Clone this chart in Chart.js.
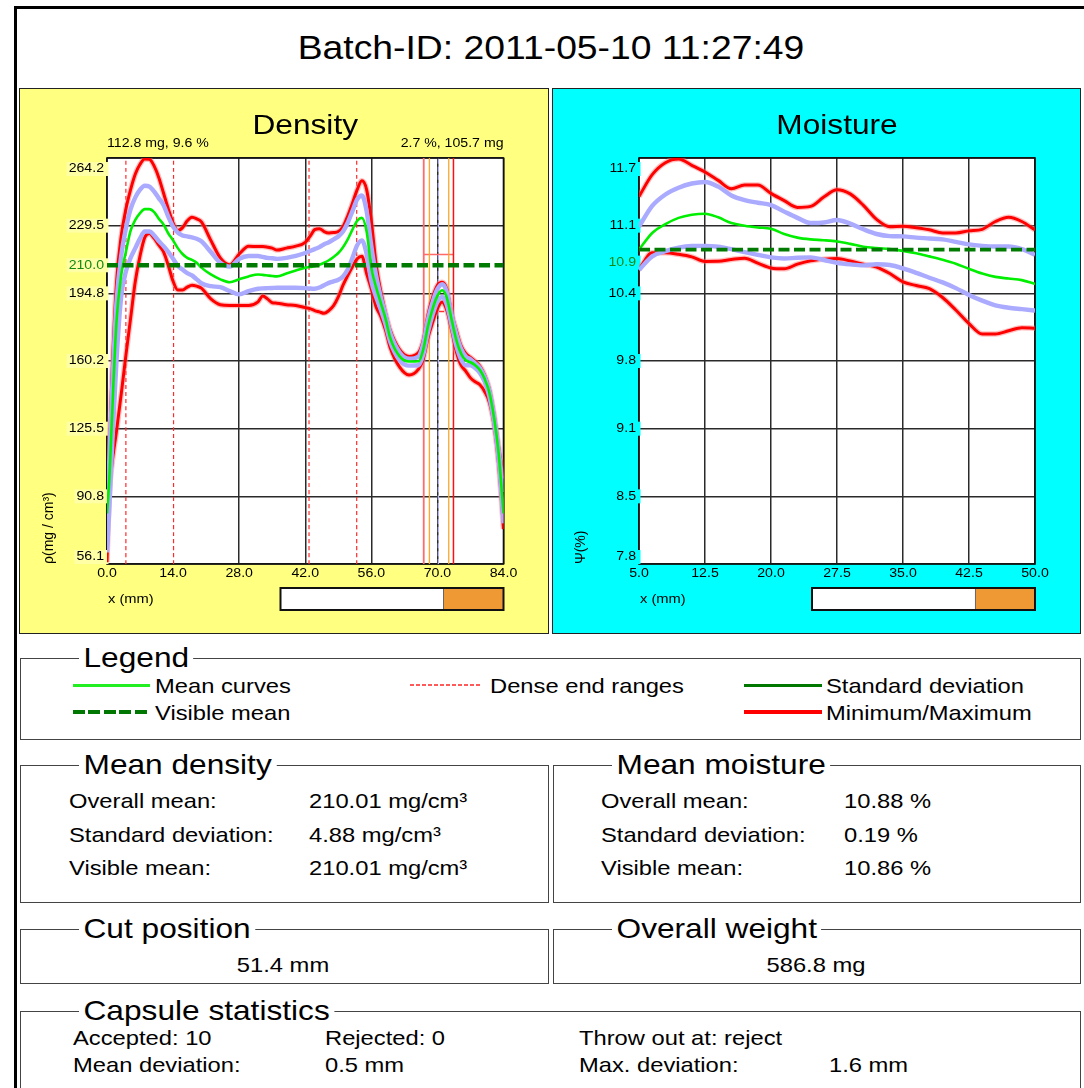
<!DOCTYPE html>
<html><head><meta charset="utf-8">
<script src="https://cdn.jsdelivr.net/npm/chart.js@4.4.1/dist/chart.umd.min.js"></script>
<style>
html,body{margin:0;padding:0;background:#fff;width:1084px;height:1088px;overflow:hidden;font-family:"Liberation Sans",Arial,sans-serif;}
#frame{position:absolute;left:14px;top:6px;width:1080px;height:1090px;border-top:3px solid #000;border-left:3px solid #000;box-sizing:border-box;}
.t{position:absolute;white-space:nowrap;line-height:1;color:#000;transform-origin:0 50%;}
.box{position:absolute;border:1.5px solid #444;box-sizing:border-box;}
.panel{position:absolute;border:1px solid #222;box-sizing:border-box;}
.panel canvas{position:absolute;left:0;top:0;}
.ln{position:absolute;}
</style></head>
<body>
<div id="frame"></div>
<div class="panel" style="left:19px;top:88px;width:530px;height:546px;background:#ffff80;"><canvas id="density" width="528" height="544"></canvas></div>
<div class="panel" style="left:552px;top:88px;width:529px;height:546px;background:#00ffff;"><canvas id="moisture" width="527" height="544"></canvas></div>
<div id="texts"></div>
<script>
// ---------------- DATA ----------------
// Density profile (x in mm, rho in mg/cm3)
const densX = [0,0.5,1,2,3,4,5,6,7,8,9,10,11,12,13,14,15,16,17,18,19,20,22,24,26,28,30,32,33,34,35,36,38,40,42,43,44,45,46,47,48,49,50,51,52,53,54,55,56,57,58,59,60,62,64,66,67,68,69,70,71,72,73,74,75,76,77,78,79,80,81,82,83,84];
const densMax = [88,115,150,200,224,238,248,256,261,263.7,263.5,260,254,246,238,231,227,228.5,232,233.8,233,231.5,222,213,209.5,215,219,218.8,218.8,218.5,218,217,218,219,221,224,227.5,228,226.5,225.8,226,226.5,229,234.5,241,248,252.5,248,232,210,196,185,176,166,162.5,164.5,171,184,193,199,200.5,197,185,176,168,164,162,160,157.5,153,146,133,116,100];
const densUp = [87,110,140,190,214,228,238,244,248,250,249.5,247,243.5,240,234,229,226,224.5,224,223.5,222.8,221.5,216,210.5,208.5,212.5,214,214,213.5,213,212.8,212.5,213,214,215.5,216.5,217.5,218.5,220,221,222.5,224,226.5,231,237,243,245,237,219,204,193,184,174.5,164.5,161.3,162.5,169,181.5,190.5,197,199.5,195.5,184,174,166.5,162.5,161,159,156.5,152,145,132,114,93];
const densMean = [82,100,128,180,204,216,227,232.5,236,238,238,236.5,233,230,225.5,222,218,215,213,212,210.5,208,204.5,202,200.5,202,203.5,204.5,204.3,204,203.7,203.5,205,206.5,208,208.3,208.7,209.5,210.5,211.8,213.5,215.5,218.5,222.5,227.5,232,233.5,226.5,208,198,190,182,172,162.5,159.9,160,166,178,187,193.5,196.4,192.5,181.5,171,164,160.5,159.5,158,155.5,151,144,131,112,82];
const densLow = [62,85,112,160,193,206,213,218,223,226.5,226.5,224.5,221.5,219,216,212.5,209,207,205.2,204,202,200,198.5,198,196,194.3,196,197.2,197.4,197.5,197.6,197.7,197.7,197.7,197.5,197.3,197.2,197.8,199,200.2,201,201.8,203.5,207,213,219.5,222,215,201,193,186.5,179,170,160.5,157.8,158,163.5,175,184,190.5,193,189,178.5,168,161,158,158,156.5,154,149.5,142,129,109,77];
const densMin = [57,92,106,124,143,163,182,201,214,223.5,225.5,223,219.5,216,209,201,196.5,196.5,198,199,198.5,197.5,192,189,188.6,188.6,188.6,190.5,193.5,192,190,189.8,189,188.6,187.5,187,186,185.3,184.6,186,188.5,193,199,204,208.5,212.5,213.9,205,197,188,183,176,167,157,153,156,161,172,180,187,190.4,186,176,165,158,155,151.5,149.5,148,144.5,139,127,106,74];
const densVisibleMean = 209.2;
const densEndRanges = [4.0, 14.1, 42.8, 52.9];
const densCutX = [67.1, 68.3, 70.2, 72.4, 73.4];
const densCutBracket = [214.7, 67.1, 73.4];   // y, x from, x to
const densCutTick = [185.5, 69.8, 71.4];
const densXTicks = [0,14,28,42,56,70,84];
const densXTickLabels = ["0.0","14.0","28.0","42.0","56.0","70.0","84.0"];
const densYTicks = [56.1,90.78,125.47,160.15,194.83,229.52,264.2];
const densYTickLabels = ["56.1","90.8","125.5","160.2","194.8","229.5","264.2"];

// Moisture profile (x in mm, psi in %)
const moistX = [5,6.5,8,9.5,11,12.5,14,15.5,17,18.5,20,21.5,23,24.5,26,27.5,29,30.5,32,33.5,35,36.5,38,39.5,41,42.5,44,45.5,47,48.5,50];
const moistMax = [11.34,11.55,11.665,11.70,11.64,11.575,11.495,11.415,11.45,11.45,11.37,11.30,11.235,11.245,11.335,11.405,11.365,11.255,11.12,11.05,11.055,11.04,11.02,10.99,10.99,11.01,11.025,11.10,11.14,11.10,11.02];
const moistUp = [11.05,11.25,11.36,11.425,11.465,11.48,11.435,11.35,11.305,11.28,11.258,11.195,11.135,11.085,11.09,11.115,11.08,11.025,10.98,10.96,10.957,10.945,10.937,10.928,10.905,10.88,10.866,10.86,10.86,10.835,10.78];
const moistMean = [10.83,10.99,11.075,11.135,11.165,11.175,11.14,11.085,11.06,11.043,11.03,10.98,10.945,10.928,10.92,10.908,10.885,10.858,10.845,10.835,10.818,10.795,10.765,10.733,10.695,10.645,10.60,10.568,10.552,10.537,10.50];
const moistLow = [10.635,10.765,10.815,10.848,10.864,10.866,10.858,10.834,10.806,10.78,10.755,10.745,10.752,10.755,10.73,10.703,10.688,10.679,10.689,10.682,10.65,10.607,10.56,10.515,10.46,10.395,10.34,10.295,10.272,10.258,10.244];
const moistMin = [10.64,10.80,10.80,10.785,10.76,10.716,10.717,10.735,10.748,10.70,10.654,10.645,10.69,10.723,10.738,10.744,10.72,10.69,10.662,10.60,10.52,10.485,10.455,10.37,10.25,10.12,10.02,10.02,10.05,10.08,10.075];
const moistVisibleMean = 10.83;
const moistXTicks = [5,12.5,20,27.5,35,42.5,50];
const moistXTickLabels = ["5.0","12.5","20.0","27.5","35.0","42.5","50.0"];
const moistYTicks = [7.81,8.46,9.11,9.76,10.41,11.06,11.71];
const moistYTickLabels = ["7.8","8.5","9.1","9.8","10.4","11.1","11.7"];

const barFraction = [0.731, 0.733];

// ---------------- DRAWING ----------------
const SX = 1.13;
const FONT = '"Liberation Sans", Arial, sans-serif';

function drawSX(ctx, text, x, y, size, color, align, sx) {
  sx = sx || SX;
  ctx.save();
  ctx.font = size + 'px ' + FONT;
  ctx.fillStyle = color;
  ctx.textBaseline = 'middle';
  ctx.textAlign = 'left';
  const w = ctx.measureText(text).width * sx;
  let x0 = x;
  if (align === 'center') x0 = x - w / 2; else if (align === 'right') x0 = x - w;
  ctx.translate(x0, y);
  ctx.scale(sx, 1);
  ctx.fillText(text, 0, 0);
  ctx.restore();
  return w;
}

const CFG = {
  density: {
    xMin: 0, xMax: 84, yMin: 56.1, yMax: 264.2,
    xTicks: densXTicks, xLabels: densXTickLabels, yTicks: densYTicks, yLabels: densYTickLabels,
    skipGridX: [14],
    xs: densX, max: densMax, up: densUp, mean: densMean, low: densLow, min: densMin,
    visMean: densVisibleMean, visMeanLabel: '210.0', visMeanOffset: 0, meanWidth: 4.6,
    title: 'Density', yTitle: 'ρ(mg / cm³)', noteL: '112.8 mg, 9.6 %', noteR: '2.7 %, 105.7 mg',
    labelBg: '#ffffa6', bar: barFraction[0],
    padding: {left: 87, top: 69, right: 44.5, bottom: 69}
  },
  moisture: {
    xMin: 5, xMax: 50, yMin: 7.81, yMax: 11.71,
    xTicks: moistXTicks, xLabels: moistXTickLabels, yTicks: moistYTicks, yLabels: moistYTickLabels,
    skipGridX: [],
    xs: moistX, max: moistMax, up: moistUp, mean: moistMean, low: moistLow, min: moistMin,
    visMean: moistVisibleMean, visMeanLabel: '10.9', visMeanOffset: 13, meanWidth: 3.6,
    title: 'Moisture', yTitle: 'Ψ(%)', noteL: '', noteR: '',
    labelBg: '#00ffff', bar: barFraction[1],
    padding: {left: 86, top: 69, right: 45, bottom: 69}
  }
};

function markerDatasets(c, id) {
  const out = [];
  if (id !== 'density') return out;
  const v = (x, color, w, dash) => out.push({data: [{x, y: c.yMin}, {x, y: c.yMax}], borderColor: color, borderWidth: w, borderDash: dash || [], order: 5});
  densEndRanges.forEach(x => v(x, '#ff2a2a', 1.2, [4, 3]));
  const cutColors = ['#ff6a6a', '#ffa62b', '#b4b4ff', '#ffa62b', '#ff1010'];
  const cutWidths = [1.8, 1.3, 1.3, 1.3, 1.5];
  densCutX.forEach((x, i) => v(x, cutColors[i], cutWidths[i], i === 2 ? [5, 3] : []));
  out.push({data: [{x: densCutBracket[1], y: densCutBracket[0]}, {x: densCutBracket[2], y: densCutBracket[0]}], borderColor: '#ff6a6a', borderWidth: 1.5, order: 5});
  out.push({data: [{x: densCutTick[1], y: densCutTick[0]}, {x: densCutTick[2], y: densCutTick[0]}], borderColor: '#ff3030', borderWidth: 1.5, order: 5});
  return out;
}

function buildDatasets(c, id) {
  const pts = arr => c.xs.map((x, i) => ({x, y: arr[i]}));
  const ds = [
    {data: [{x: c.xMin, y: c.visMean}, {x: c.xMax, y: c.visMean}], borderColor: '#007a00', borderWidth: c.meanWidth, borderDash: [11, 4.5], order: 0, cubicInterpolationMode: 'default', tension: 0},
    {data: pts(c.mean), borderColor: '#00ee00', borderWidth: 2.6, order: 1},
    {data: pts(c.up), borderColor: '#aaaaff', borderWidth: 4.4, order: 2},
    {data: pts(c.low), borderColor: '#aaaaff', borderWidth: 4.4, order: 2},
    {data: pts(c.max), borderColor: '#ff0000', borderWidth: 3, order: 3},
    {data: pts(c.min), borderColor: '#ff0000', borderWidth: 3, order: 3},
    {data: pts(c.max), borderColor: 'rgba(255,120,120,0.45)', borderWidth: 5.5, order: 4},
    {data: pts(c.min), borderColor: 'rgba(255,120,120,0.45)', borderWidth: 5.5, order: 4}
  ].concat(markerDatasets(c, id));
  return ds.map(d => Object.assign({showLine: true, pointRadius: 0, pointHoverRadius: 0, fill: false,
    cubicInterpolationMode: 'monotone', borderCapStyle: 'butt', borderJoinStyle: 'round'}, d));
}

const deco = {
  id: 'deco',
  beforeDraw(chart) {
    const a = chart.chartArea, ctx = chart.ctx;
    ctx.save(); ctx.fillStyle = '#fff';
    ctx.fillRect(a.left, a.top, a.right - a.left, a.bottom - a.top);
    ctx.restore();
  },
  beforeDatasetsDraw(chart) {
    const c = CFG[chart.canvas.id], a = chart.chartArea, ctx = chart.ctx, ys = chart.scales.y;
    ctx.save();
    ctx.strokeStyle = '#111'; ctx.lineWidth = 1.6;
    ctx.strokeRect(a.left, a.top, a.right - a.left, a.bottom - a.top);
    ctx.restore();
    const label = (txt, py, col) => {
      ctx.save();
      ctx.font = '12.5px ' + FONT;
      const w = ctx.measureText(txt).width * SX;
      const xr = a.left - 3;
      ctx.fillStyle = c.labelBg;
      ctx.fillRect(xr - w - 2, py - 7, w + 2 + 3 + 1.5, 14);
      ctx.restore();
      drawSX(ctx, txt, xr, py, 12.5, col, 'right');
    };
    c.yTicks.forEach((v, i) => {
      let py = ys.getPixelForValue(v);
      if (i === c.yTicks.length - 1) py += 11; else if (i === 0) py -= 7;
      label(c.yLabels[i], py, '#000');
    });
    label(c.visMeanLabel, ys.getPixelForValue(c.visMean) + c.visMeanOffset, '#138a13');
  },
  afterDraw(chart) {
    const c = CFG[chart.canvas.id], a = chart.chartArea, ctx = chart.ctx, xs = chart.scales.x;
    c.xTicks.forEach((v, i) => drawSX(ctx, c.xLabels[i], xs.getPixelForValue(v), a.bottom + 9.5, 12.5, '#000', 'center'));
    drawSX(ctx, c.title, (a.left + a.right) / 2, 37.5, 28, '#000', 'center');
    if (c.noteL) drawSX(ctx, c.noteL, a.left, 54.5, 12.5, '#000', 'left');
    if (c.noteR) drawSX(ctx, c.noteR, a.right, 54.5, 12.5, '#000', 'right');
    drawSX(ctx, 'x (mm)', a.left + 1, a.bottom + 35, 13, '#000', 'left');
    // rotated y title
    ctx.save();
    ctx.translate(a.left - 58, a.bottom);
    ctx.rotate(-Math.PI / 2);
    ctx.font = '14px ' + FONT; ctx.fillStyle = '#000';
    ctx.textBaseline = 'middle'; ctx.textAlign = 'left';
    ctx.fillText(c.yTitle, 0, 0);
    ctx.restore();
    // progress bar
    const bw = 223, bh = 22, bx = a.right - bw, by = a.bottom + 24;
    ctx.save();
    ctx.fillStyle = '#fff'; ctx.fillRect(bx, by, bw, bh);
    ctx.fillStyle = '#ee9933'; ctx.fillRect(bx + bw * c.bar, by, bw * (1 - c.bar), bh);
    ctx.strokeStyle = '#666'; ctx.lineWidth = 1;
    ctx.beginPath(); ctx.moveTo(bx + bw * c.bar, by); ctx.lineTo(bx + bw * c.bar, by + bh); ctx.stroke();
    ctx.strokeStyle = '#111'; ctx.lineWidth = 2; ctx.strokeRect(bx, by, bw, bh);
    ctx.restore();
  }
};

function makeChart(id) {
  const c = CFG[id];
  const gridColor = (ctx) => (ctx.tick && c.skipGridX.indexOf(ctx.tick.value) >= 0) ? 'rgba(0,0,0,0)' : '#2a2a2a';
  new Chart(document.getElementById(id), {
    type: 'scatter',
    data: {datasets: buildDatasets(c, id)},
    options: {
      responsive: false, animation: false, devicePixelRatio: 1, events: [],
      layout: {padding: c.padding},
      plugins: {legend: {display: false}, tooltip: {enabled: false}, title: {display: false}},
      scales: {
        x: {type: 'linear', min: c.xMin, max: c.xMax,
            afterBuildTicks: s => { s.ticks = c.xTicks.map(v => ({value: v})); },
            ticks: {display: false}, border: {display: false},
            grid: {drawTicks: false, color: gridColor, lineWidth: 1.5}},
        y: {type: 'linear', min: c.yMin, max: c.yMax,
            afterBuildTicks: s => { s.ticks = c.yTicks.map(v => ({value: v})); },
            ticks: {display: false}, border: {display: false},
            grid: {drawTicks: false, color: '#2a2a2a', lineWidth: 1.5}}
      }
    },
    plugins: [deco]
  });
}
makeChart('density');
makeChart('moisture');

// ---------------- HTML TEXT / BOXES ----------------
const host = document.getElementById('texts');
function T(text, x, y, size, align, bg) {
  const d = document.createElement('div');
  d.className = 't';
  d.textContent = text;
  d.style.fontSize = size + 'px';
  d.style.left = x + 'px';
  d.style.top = (y - size / 2) + 'px';
  if (bg) { d.style.background = '#fff'; d.style.padding = '0 4px'; }
  d.style.transform = align === 'c' ? 'scaleX(' + SX + ') translateX(-50%)' : 'scaleX(' + SX + ')';
  host.appendChild(d);
}
function B(l, t, r, b) {
  const d = document.createElement('div');
  d.className = 'box';
  d.style.left = l + 'px'; d.style.top = t + 'px';
  d.style.width = (r - l) + 'px'; d.style.height = (b - t) + 'px';
  host.appendChild(d);
}
function L(x1, x2, y, color, h, dash, gap) {
  const d = document.createElement('div');
  d.className = 'ln';
  d.style.left = x1 + 'px'; d.style.top = (y - h / 2) + 'px';
  d.style.width = (x2 - x1) + 'px'; d.style.height = h + 'px';
  d.style.background = dash ? 'repeating-linear-gradient(to right,' + color + ' 0 ' + dash + 'px, transparent ' + dash + 'px ' + (dash + gap) + 'px)' : color;
  host.appendChild(d);
}

T('Batch-ID: 2011-05-10 11:27:49', 551, 47, 33, 'c');

B(20, 658, 1081, 740);
T('Legend', 79, 658, 28, 'l', true);
L(73, 150, 685, '#22ee22', 3);
T('Mean curves', 155, 685, 21);
L(410, 482, 685, '#ff5a5a', 2, 4, 2);
T('Dense end ranges', 490, 685, 21);
L(744, 822, 685, '#007700', 3);
T('Standard deviation', 826, 685, 21);
L(73, 150, 712, '#007700', 3.5, 12, 3.5);
T('Visible mean', 155, 712, 21);
L(744, 822, 712, '#ff0000', 4);
T('Minimum/Maximum', 826, 712, 21);

B(20, 765, 549, 903);
T('Mean density', 79, 765, 28, 'l', true);
T('Overall mean:', 69, 800, 21); T('210.01 mg/cm³', 309, 800, 21);
T('Standard deviation:', 69, 834, 21); T('4.88 mg/cm³', 309, 834, 21);
T('Visible mean:', 69, 867, 21); T('210.01 mg/cm³', 309, 867, 21);

B(553, 765, 1081, 903);
T('Mean moisture', 612, 765, 28, 'l', true);
T('Overall mean:', 601, 800, 21); T('10.88 %', 844, 800, 21);
T('Standard deviation:', 601, 834, 21); T('0.19 %', 844, 834, 21);
T('Visible mean:', 601, 867, 21); T('10.86 %', 844, 867, 21);

B(20, 929, 549, 984);
T('Cut position', 79, 929, 28, 'l', true);
T('51.4 mm', 283, 964, 21, 'c');

B(553, 929, 1081, 984);
T('Overall weight', 612, 929, 28, 'l', true);
T('586.8 mg', 816, 964, 21, 'c');

B(20, 1011, 1081, 1110);
T('Capsule statistics', 79, 1011, 28, 'l', true);
T('Accepted: 10', 73, 1037, 21); T('Rejected: 0', 325, 1037, 21); T('Throw out at: reject', 579, 1037, 21);
T('Mean deviation:', 73, 1064, 21); T('0.5 mm', 325, 1064, 21); T('Max. deviation:', 579, 1064, 21); T('1.6 mm', 829, 1064, 21);
</script>
</body></html>
